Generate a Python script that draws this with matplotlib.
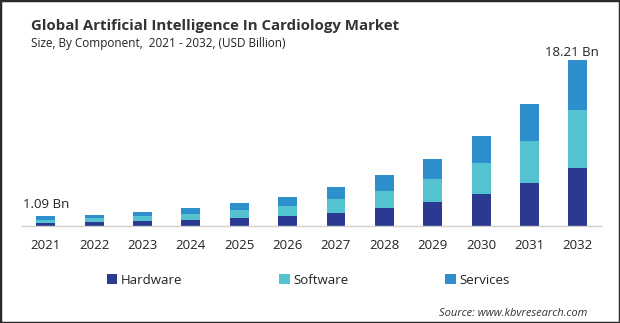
import matplotlib
matplotlib.use("Agg")
import matplotlib.pyplot as plt
from matplotlib.patches import Patch, Rectangle

plt.rcParams['font.family'] = ['Open Sans', 'DejaVu Sans']

years = ['2021', '2022', '2023', '2024', '2025', '2026',
         '2027', '2028', '2029', '2030', '2031', '2032']
hardware = [0.38, 0.43, 0.50, 0.62, 0.85, 1.07, 1.43, 1.97, 2.63, 3.51, 4.68, 6.37]
software = [0.33, 0.43, 0.55, 0.66, 0.88, 1.10, 1.53, 1.86, 2.52, 3.40, 4.64, 6.36]
services = [0.38, 0.36, 0.45, 0.66, 0.77, 0.98, 1.32, 1.75, 2.19, 2.96, 4.06, 5.48]
series_names = ['Hardware', 'Software', 'Services']
colors = ['#2b3990', '#53c3cf', '#2f8fcc']
total_labels = {0: '1.09 Bn', 11: '18.21 Bn'}

fig = plt.figure(figsize=(6.2, 3.23), dpi=100)
ax = fig.add_axes([0.0355, 0.3003, 0.934, 0.5647])

x = list(range(len(years)))
width = 0.39
bottom = [0.0] * len(years)
for vals, col, name in zip([hardware, software, services], colors, series_names):
    ax.bar(x, vals, width, bottom=bottom, color=col, label=name, linewidth=0)
    bottom = [b + v for b, v in zip(bottom, vals)]

label_offsets = {0: (0, 4), 11: (-4, 0.5)}
for i, txt in total_labels.items():
    ax.annotate(txt, (x[i], bottom[i]), xytext=label_offsets[i],
                textcoords='offset points', ha='center', va='bottom',
                fontsize=9.5, color='#222222')

ax.set_xlim(-0.49, 11.48)
ax.set_ylim(0, 20)
ax.set_xticks(x)
ax.set_xticklabels(years, fontsize=9.5, color='#222222')
ax.tick_params(axis='x', length=0, pad=9)
ax.set_yticks([])
for side in ['left', 'right', 'top']:
    ax.spines[side].set_visible(False)
ax.spines['bottom'].set_color('#d0d0d0')
ax.spines['bottom'].set_linewidth(1)

fig.text(0.05, 0.92, 'Global Artificial Intelligence In Cardiology Market',
         fontsize=10.8, fontweight='bold', color='#333333', va='center')
fig.text(0.05, 0.865, 'Size, By Component,  2021 - 2032, (USD Billion)',
         fontsize=8.5, color='#222222', va='center')

handles = [Patch(facecolor=c, edgecolor='none') for c in colors]
fig.legend(handles, series_names, loc='center left', bbox_to_anchor=(0.153, 0.132),
           ncol=3, frameon=False, fontsize=9.5, handlelength=0.8, handleheight=0.8,
           handletextpad=0.3, columnspacing=7.3, labelcolor='#222222')

fig.text(0.948, 0.03, 'Source: www.kbvresearch.com', fontsize=8, style='italic',
         color='#333333', ha='right', va='center')

fig.patches.append(Rectangle((0, 0), 1, 1, transform=fig.transFigure, fill=False,
                             edgecolor='#2b2b2b', linewidth=2.5))

fig.savefig('out.png', dpi=100)
